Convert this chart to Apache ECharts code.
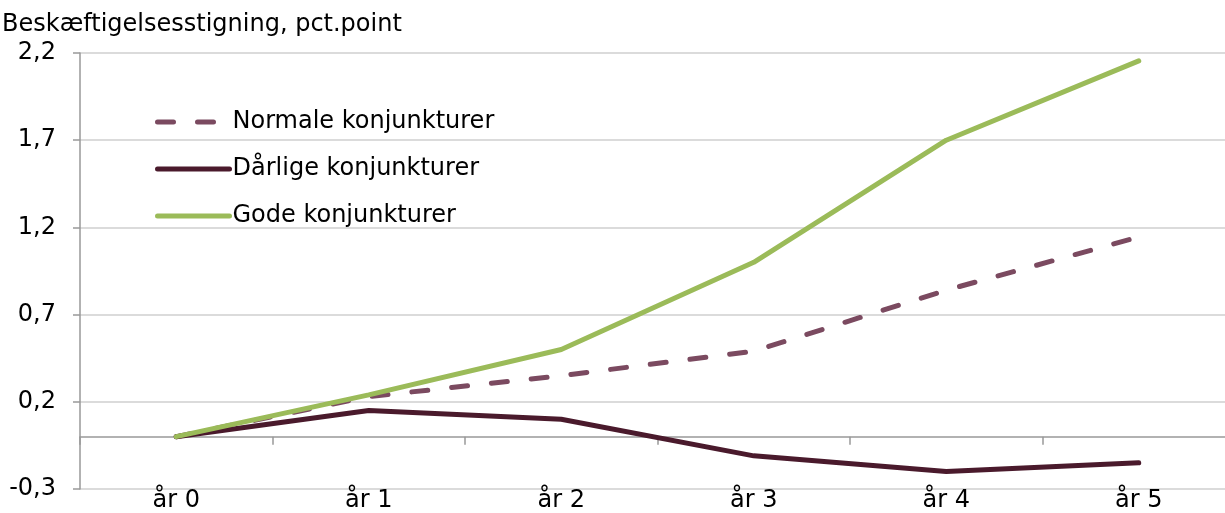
<!DOCTYPE html>
<html><head><meta charset="utf-8">
<script src="https://cdn.jsdelivr.net/npm/echarts@6/dist/echarts.min.js"></script>
<style>html,body{margin:0;padding:0;background:#fff;overflow:hidden}#c{width:1240px;height:513px}</style>
</head><body><div id="c"></div>
<script>
const categories = ['år 0','år 1','år 2','år 3','år 4','år 5'];
const normale = [0, 0.23, 0.35, 0.49, 0.84, 1.145];
const daarlige = [0, 0.15, 0.10, -0.11, -0.20, -0.15];
const gode = [0, 0.24, 0.50, 1.00, 1.70, 2.155];
const seriesNames = ['Normale konjunkturer','Dårlige konjunkturer','Gode konjunkturer'];
const titleText = 'Beskæftigelsesstigning, pct.point';

const FONT = 'DejaVu Sans';
const FS = 24;
const chart = echarts.init(document.getElementById('c'), null, {renderer:'canvas'});
chart.setOption({
  animation: false,
  title: { text: titleText, left: -3, top: 8, textStyle: { fontFamily: FONT, fontSize: 24, fontWeight: 'normal', color: '#000' } },
  legend: {
    orient: 'vertical', left: 150, top: 105, itemWidth: 72, itemHeight: 14, itemGap: 23,
    textStyle: { fontFamily: FONT, fontSize: FS, color: '#000', padding: [0,0,0,-2] },
    itemStyle: { opacity: 0 },
    lineStyle: { width: 5, cap: 'round' },
    data: seriesNames
  },
  grid: { left: 80, width: 1155, top: 53, bottom: 20, containLabel: false },
  xAxis: [
    { type: 'category', data: categories, boundaryGap: true,
      axisLine: { onZero: true, lineStyle: { color: '#999', width: 1.5 } },
      axisTick: { show: true, length: 8, lineStyle: { color: '#999', width: 1.5 } },
      axisLabel: { show: false }, splitLine: { show: false } },
    { type: 'category', data: categories, boundaryGap: true, position: 'bottom',
      axisLine: { show: false, onZero: false }, axisTick: { show: false },
      axisLabel: { fontFamily: FONT, fontSize: FS, color: '#000', margin: 0 } }
  ],
  yAxis: {
    type: 'value', min: -0.3, max: 2.2, interval: 0.5,
    axisLine: { show: true, lineStyle: { color: '#999', width: 1.5 } },
    axisTick: { show: true, length: 7, lineStyle: { color: '#999', width: 1.5 } },
    axisLabel: { fontFamily: FONT, fontSize: FS, color: '#000', margin: 24,
      formatter: v => (Math.round(v*10)/10).toFixed(1).replace('.', ',') },
    splitLine: { show: true, lineStyle: { color: '#cfcfcf', width: 1.5 } }
  },
  series: [
    { name: seriesNames[0], type: 'line', data: normale, symbol: 'none',
      lineStyle: { color: '#7b4a60', width: 5, type: [16, 24], cap: 'round' }, itemStyle: { color: '#7b4a60' } },
    { name: seriesNames[1], type: 'line', data: daarlige, symbol: 'none',
      lineStyle: { color: '#4a1a2c', width: 5, cap: 'round' }, itemStyle: { color: '#4a1a2c' } },
    { name: seriesNames[2], type: 'line', data: gode, symbol: 'none',
      lineStyle: { color: '#9bbb59', width: 5, cap: 'round' }, itemStyle: { color: '#9bbb59' } }
  ]
});
</script></body></html>
